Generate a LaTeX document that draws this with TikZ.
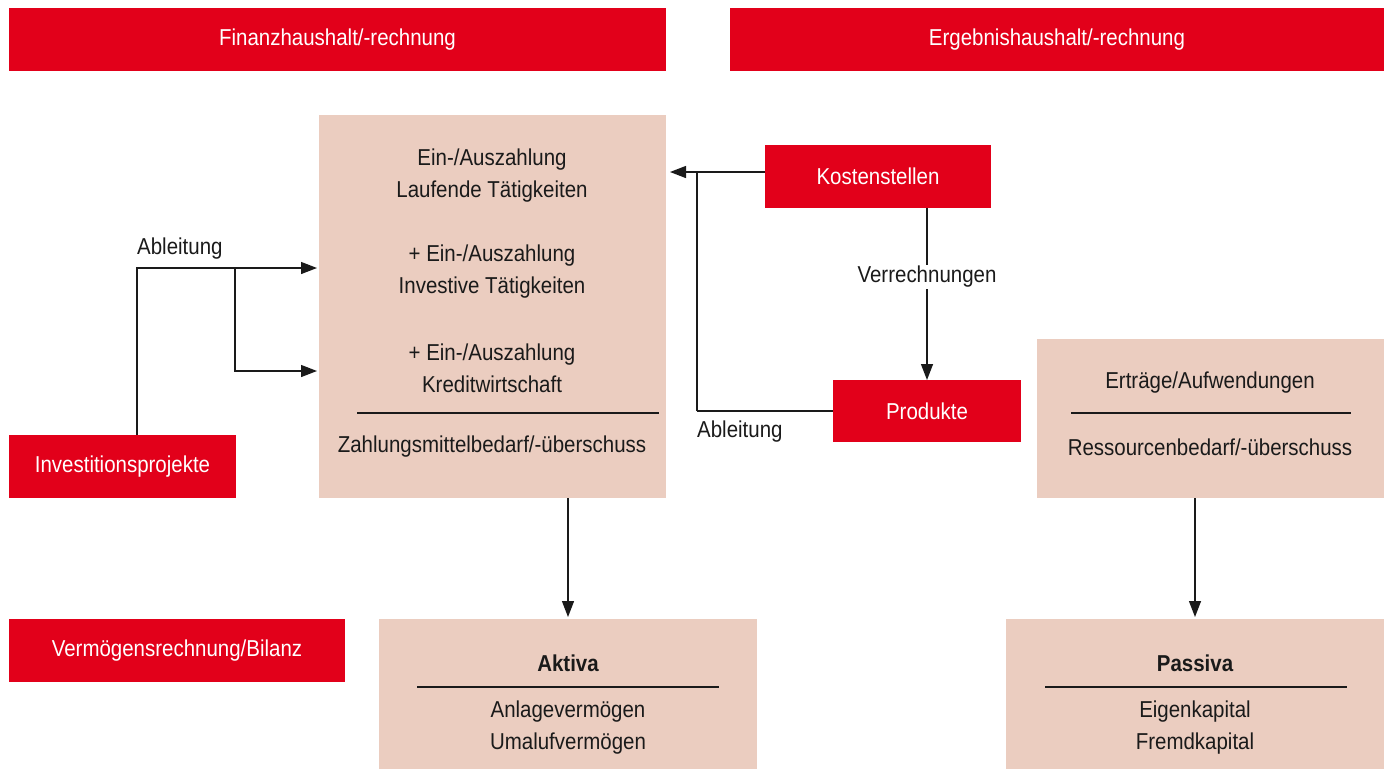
\documentclass[tikz,border=0pt]{standalone}
\usepackage{fontspec}
\setmainfont[FakeStretch=0.89]{Liberation Sans}
\usetikzlibrary{arrows.meta}
\definecolor{kred}{HTML}{E2001A}
\definecolor{kpink}{HTML}{EBCDC0}
\definecolor{ink}{HTML}{1A1A1A}
\begin{document}
\begin{tikzpicture}[x=1pt,y=-1pt,
  base/.style={inner sep=0pt,outer sep=0pt,anchor=north west},
  redbox/.style={base,fill=kred,text=white,font=\fontsize{23}{26}\selectfont},
  pinkbox/.style={base,fill=kpink},
  txt/.style={text=ink,align=center,inner sep=0pt,font=\fontsize{23}{32}\selectfont},
  conn/.style={draw=ink,line width=1.3pt},
  arr/.style={conn,-{Triangle[length=16pt,width=12pt]}},
  rule/.style={draw=ink,line width=1.2pt}
]
\useasboundingbox (0,0) rectangle (1386,769);
% header boxes
\node[redbox,minimum width=657pt,minimum height=63pt] (fin) at (9,8) {Finanzhaushalt/-rechnung};
\node[redbox,minimum width=654pt,minimum height=63pt] (erg) at (730,8) {Ergebnishaushalt/-rechnung};
% big pink box
\node[pinkbox,minimum width=347pt,minimum height=383pt] (big) at (319,115) {};
\node[txt] (t1) at (492,176) {Ein-/Auszahlung\\Laufende Tätigkeiten};
\node[txt] (t2) at (492,272) {+ Ein-/Auszahlung\\Investive Tätigkeiten};
\node[txt] (t3) at (492,368) {+ Ein-/Auszahlung\\Kreditwirtschaft};
\coordinate (r1a) at (357,413); \coordinate (r1b) at (659,413);
\draw[rule] (r1a) -- (r1b);
\node[txt] (t4) at (492,447) {Zahlungsmittelbedarf/-überschuss};
% right pink box
\node[pinkbox,minimum width=347pt,minimum height=159pt] (rbox) at (1037,339) {};
\node[txt] (t5) at (1210,383) {Erträge/Aufwendungen};
\coordinate (r2a) at (1071,413); \coordinate (r2b) at (1351,413);
\draw[rule] (r2a) -- (r2b);
\node[txt] (t6) at (1210,447) {Ressourcenbedarf/-überschuss};
% red boxes
\node[redbox,minimum width=227pt,minimum height=63pt] (inv) at (9,435) {Investitionsprojekte};
\node[redbox,minimum width=226pt,minimum height=63pt] (kost) at (765,145) {Kostenstellen};
\node[redbox,minimum width=188pt,minimum height=62pt] (prod) at (833,380) {Produkte};
\node[redbox,minimum width=336pt,minimum height=63pt] (verm) at (9,619) {Vermögensrechnung/Bilanz};
% Aktiva / Passiva
\node[pinkbox,minimum width=378pt,minimum height=150pt] (akt) at (379,619) {};
\node[txt,font=\bfseries\fontsize{23}{32}\selectfont] (akth) at (568,663) {Aktiva};
\coordinate (r3a) at (417,687); \coordinate (r3b) at (719,687);
\draw[rule] (r3a) -- (r3b);
\node[txt] (aktt) at (568,728) {Anlagevermögen\\Umalufvermögen};
\node[pinkbox,minimum width=378pt,minimum height=150pt] (pas) at (1006,619) {};
\node[txt,font=\bfseries\fontsize{23}{32}\selectfont] (pash) at (1195,663) {Passiva};
\coordinate (r4a) at (1045,687); \coordinate (r4b) at (1347,687);
\draw[rule] (r4a) -- (r4b);
\node[txt] (past) at (1195,728) {Eigenkapital\\Fremdkapital};
% left connectors
\coordinate (la) at (137,268);
\coordinate (lb) at (235,268);
\coordinate (lc) at (235,371);
\draw[conn] (inv.north -| la) -- (la) -- (lb);
\draw[arr,shorten >=2pt] (lb) -- (lb -| big.west);
\draw[arr,shorten >=2pt] (lb) -- (lc) -- (lc -| big.west);
\node[txt,anchor=west] (abl1) at (137,249) {Ableitung};
% right connectors
\coordinate (ra) at (697,172);
\draw[conn,line width=2.4pt] (prod.west) -- (prod.west -| ra);
\draw[conn] (prod.west -| ra) -- (ra);
\draw[conn] (kost.west |- ra) -- (ra);
\draw[arr,shorten >=4pt] (ra) -- (ra -| big.east);
\node[txt,anchor=west] (abl2) at (697,432) {Ableitung};
\draw[arr] (kost.south -| prod.north) -- (prod.north)
  node[pos=0.4,fill=white,inner sep=1pt,text=ink,font=\fontsize{23}{26}\selectfont] (verr) {Verrechnungen};
% down arrows
\draw[arr,shorten >=2pt] (big.south -| akt.north) -- (akt.north);
\draw[arr,shorten >=2pt] (rbox.south -| pas.north) -- (pas.north);
\end{tikzpicture}
\end{document}
